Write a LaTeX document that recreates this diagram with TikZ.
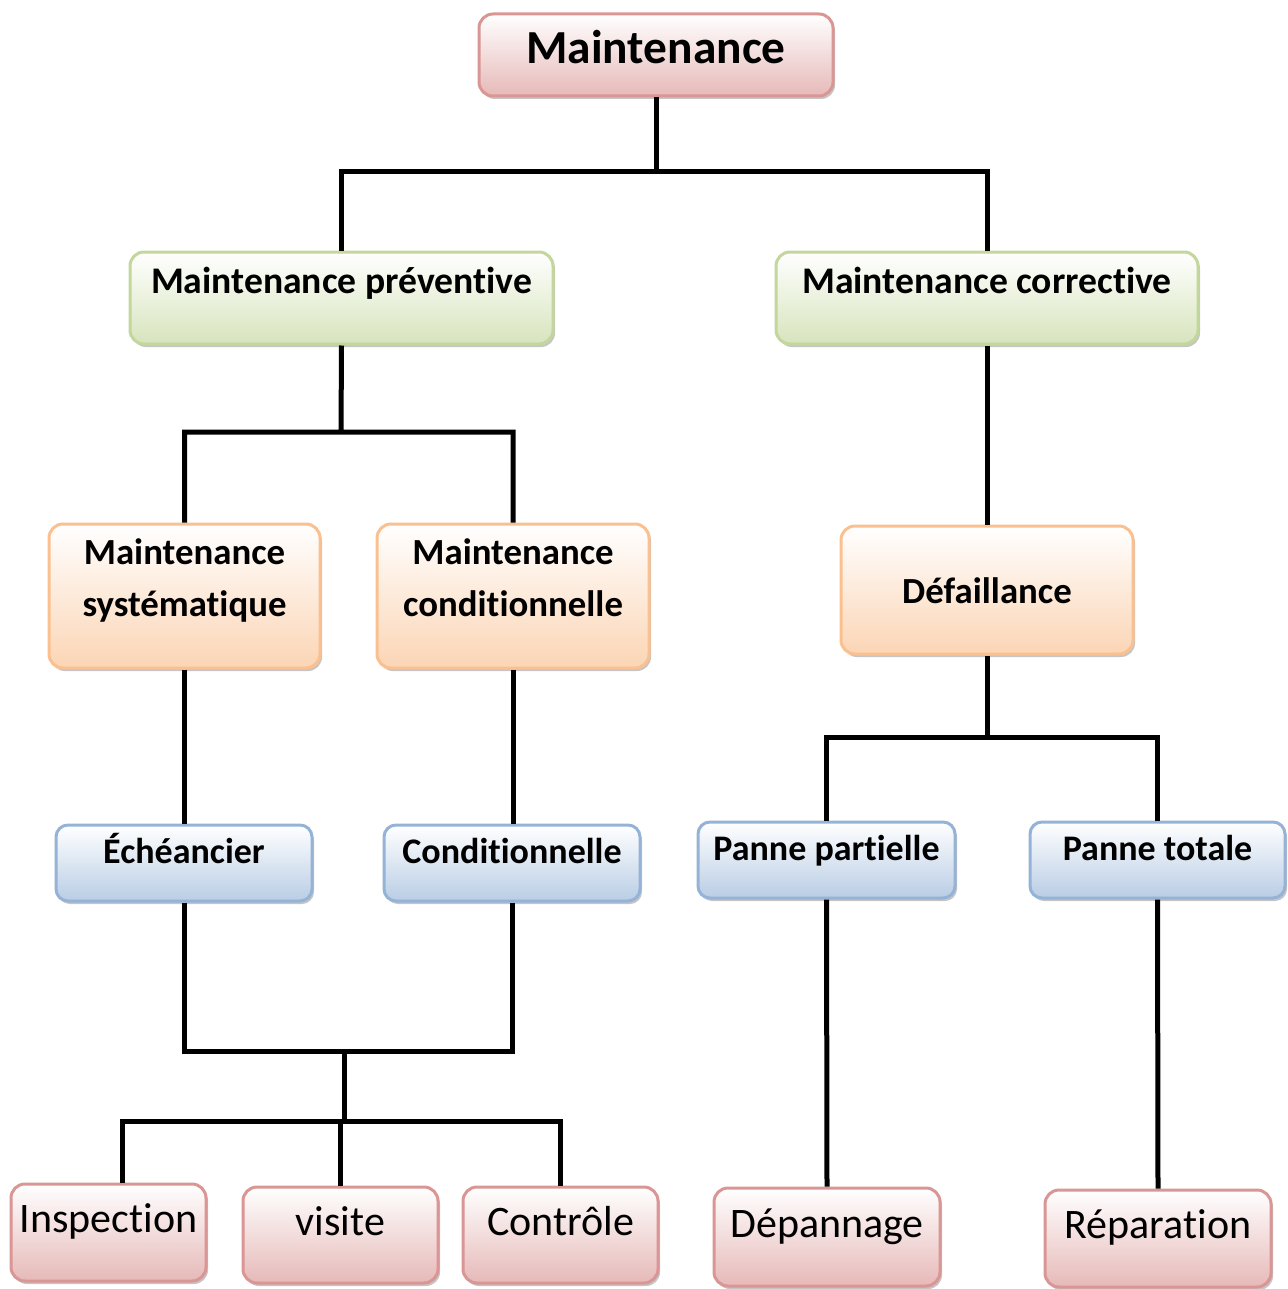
\documentclass[tikz,border=0pt]{standalone}
\usepackage{fontspec}
\setmainfont{Carlito}[Ligatures=NoCommon]
\usetikzlibrary{shadows}
\definecolor{pinkline}{HTML}{D99694}
\definecolor{pinkfill}{HTML}{E6B9B8}
\definecolor{greenline}{HTML}{C3D69B}
\definecolor{greenfill}{HTML}{D7E4BD}
\definecolor{orangeline}{HTML}{FAC08F}
\definecolor{orangefill}{HTML}{FBD5B5}
\definecolor{blueline}{HTML}{95B3D7}
\definecolor{bluefill}{HTML}{B9CDE5}
\newcommand{\linkwidth}{2.5pt}
\tikzset{
  box/.style={rectangle, rounded corners=7pt, line width=1.5pt, inner sep=0pt,
    top color=white, align=center,
    drop shadow={shadow xshift=1pt, shadow yshift=-1.5pt, fill=black!45}},
  pinkbox/.style={box, draw=pinkline, bottom color=pinkfill},
  greenbox/.style={box, draw=greenline, bottom color=greenfill},
  orangebox/.style={box, draw=orangeline, bottom color=orangefill},
  bluebox/.style={box, draw=blueline, bottom color=bluefill},
  link/.style={line width=\linkwidth}
}
\begin{document}
\begin{tikzpicture}[x=1pt,y=-1pt]
  \useasboundingbox (0,0) rectangle (644,644.5);
  \node (maint) at (328,27.5) [pinkbox, minimum width=177, minimum height=41,
    text height=14pt, text depth=5pt, font=\bfseries\fontsize{23.7}{28}\selectfont] {Maintenance};
  \node (prev) at (170.75,149) [greenbox, minimum width=211.5, minimum height=46,
    text height=10pt, text depth=15pt, font=\bfseries\fontsize{18.8}{23}\selectfont] {Maintenance préventive};
  \node (corr) at (493.5,149) [greenbox, minimum width=211, minimum height=46,
    text height=10pt, text depth=15pt, font=\bfseries\fontsize{18.8}{23}\selectfont] {Maintenance corrective};
  \node (syst) at (92.25,298) [orangebox, minimum width=135.5, minimum height=72,
    text height=38pt, text depth=18pt, font=\bfseries\fontsize{18.4}{26}\selectfont] {Maintenance\\systématique};
  \node (cond) at (256.5,298) [orangebox, minimum width=136, minimum height=72,
    text height=38pt, text depth=18pt, font=\bfseries\fontsize{18.4}{26}\selectfont] {Maintenance\\conditionnelle};
  \node (defa) at (493.5,295) [orangebox, minimum width=146, minimum height=64,
    text height=15pt, text depth=2pt, font=\bfseries\fontsize{18.4}{22}\selectfont] {Défaillance};
  \node (eche) at (92,431.5) [bluebox, minimum width=128, minimum height=38, rounded corners=6pt,
    text height=10pt, text depth=10pt, font=\bfseries\fontsize{18}{22}\selectfont] {Échéancier};
  \node (condi) at (256,431.5) [bluebox, minimum width=128, minimum height=38, rounded corners=6pt,
    text height=10pt, text depth=10pt, font=\bfseries\fontsize{18}{22}\selectfont] {Conditionnelle};
  \node (ppart) at (413.25,430) [bluebox, minimum width=128.5, minimum height=38, rounded corners=6pt,
    text height=10pt, text depth=10pt, font=\bfseries\fontsize{18}{22}\selectfont] {Panne partielle};
  \node (ptot) at (578.75,430) [bluebox, minimum width=127.5, minimum height=38, rounded corners=6pt,
    text height=10pt, text depth=10pt, font=\bfseries\fontsize{18}{22}\selectfont] {Panne totale};
  \node (insp) at (54.25,616.25) [pinkbox, minimum width=97.5, minimum height=48.5,
    text height=10pt, text depth=10pt, font=\fontsize{21}{25}\selectfont] {Inspection};
  \node (visi) at (170.25,617.5) [pinkbox, minimum width=97.5, minimum height=48,
    text height=10pt, text depth=10pt, font=\fontsize{21}{25}\selectfont] {visite};
  \node (ctrl) at (280.25,617.5) [pinkbox, minimum width=97.5, minimum height=48,
    text height=10pt, text depth=10pt, font=\fontsize{21}{25}\selectfont] {Contrôle};
  \node (depa) at (413.5,618.5) [pinkbox, minimum width=113, minimum height=49,
    text height=10pt, text depth=10pt, font=\fontsize{21}{25}\selectfont] {Dépannage};
  \node (repa) at (579,619.25) [pinkbox, minimum width=113, minimum height=48.5,
    text height=10pt, text depth=10pt, font=\fontsize{21}{25}\selectfont] {Réparation};
  \coordinate (top fork) at (328,86);
  \coordinate (prev fork) at (170.5,216);
  \coordinate (defa fork) at (493.5,368.5);
  \coordinate (join) at (172,525.5);
  \coordinate (low fork) at (172,560.5);
  \draw[link] (maint.south) -- (top fork) -| (prev.north)
    (top fork) -| (corr.north);
  \draw[link] (prev.south) -- (prev fork) -| (syst.north)
    (prev fork) -| (cond.north);
  \draw[link] (corr.south) -- (defa.north);
  \draw[link] (syst.south) -- (syst.south |- eche.north)
    (cond.south) -- (cond.south |- condi.north);
  \draw[link] (defa.south) -- (defa fork) -| (ppart.north)
    (defa fork) -| (ptot.north);
  \draw[link] (eche.south) |- (join) -| (condi.south)
    (join) -- (low fork) -| ([xshift=6.75pt]insp.north)
    (low fork) -- (visi.north |- low fork) -- (visi.north)
    (low fork) -| (ctrl.north);
  \draw[link] (ppart.south) -- (depa.north)
    (ptot.south) -- (repa.north);
\end{tikzpicture}
\end{document}
